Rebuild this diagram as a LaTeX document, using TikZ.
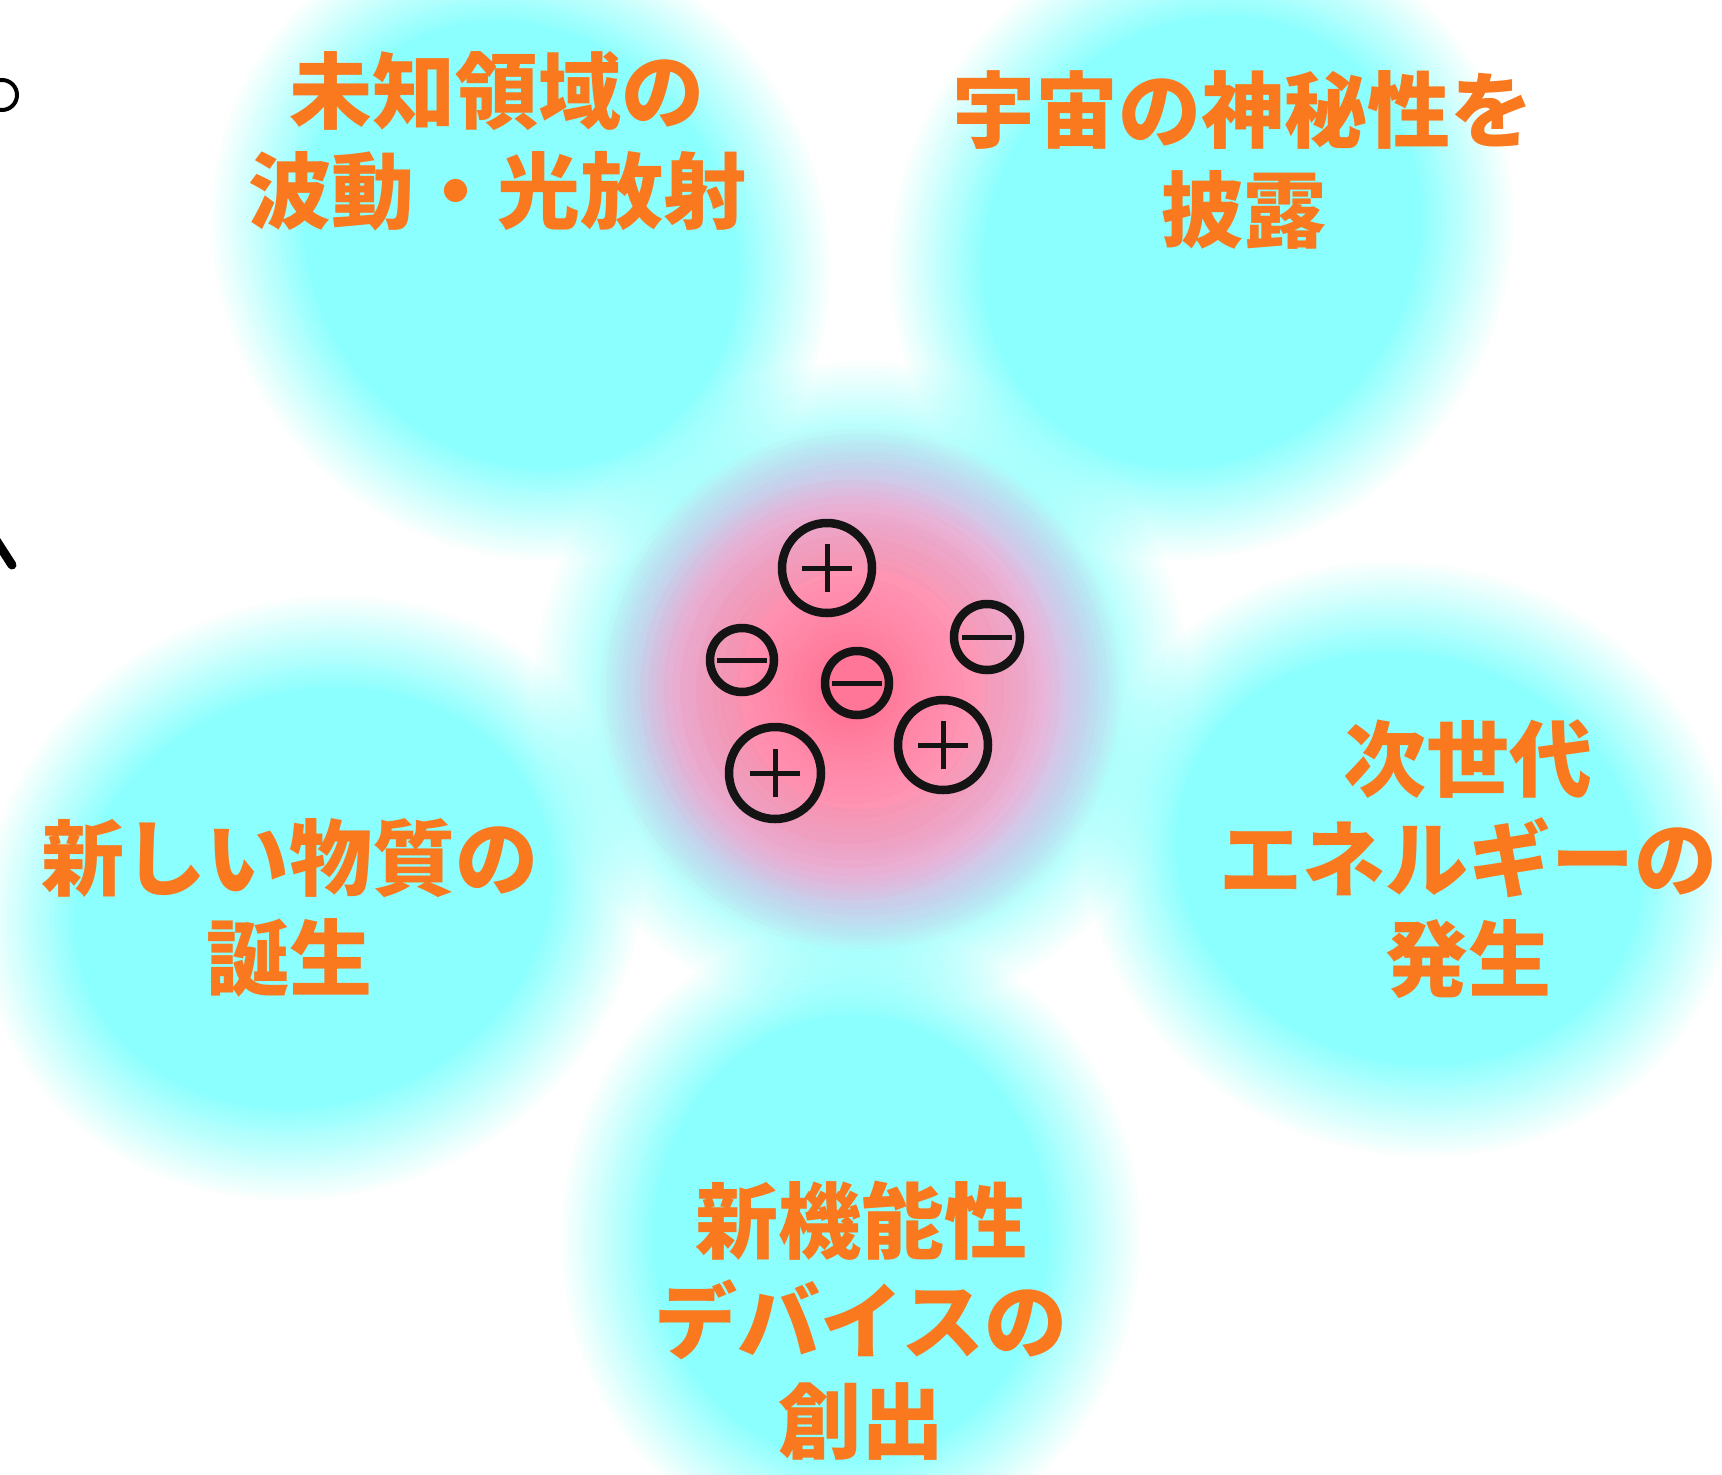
\documentclass[tikz,border=0pt]{standalone}
\usepackage{fontspec}
\newfontfamily\jpfont{Noto Sans CJK JP}
\definecolor{petalcol}{RGB}{138,255,253}
\definecolor{lavender}{RGB}{222,208,250}
\definecolor{pinklight}{RGB}{255,182,212}
\definecolor{pinkdeep}{RGB}{255,118,152}
\definecolor{txtorange}{RGB}{250,120,30}
\newcommand\softellipse[7]{%
  \foreach \j in {1,...,26}{%
    \pgfmathsetmacro\myoff{-#6+2*#6*(\j-1)/25}%
    \pgfmathsetmacro\myop{1/\j}%
    \fill[#7, opacity=\myop, rotate around={#3:(#1,#2)}] (#1,#2) ellipse ({#4+\myoff} and {#5+\myoff});
  }}
\tikzset{
  lbl/.style={text=txtorange, align=center, inner sep=0pt,
    font=\jpfont\bfseries\fontsize{83}{100}\selectfont},
  chg/.style={circle, draw=black!92, line width=8.5pt, inner sep=0pt},
  plus/.style={chg, path picture={
      \draw[line width=5pt, black!92] (path picture bounding box.center) ++(-25pt,0) -- ++(50pt,0);
      \draw[line width=5pt, black!92] (path picture bounding box.center) ++(0,-24pt) -- ++(0,48pt);}},
  minus/.style={chg, path picture={
      \draw[line width=5pt, black!92] (path picture bounding box.center) ++(-25pt,0) -- ++(50pt,0);}},
}
\begin{document}
\begin{tikzpicture}[x=1pt,y=-1pt]
\useasboundingbox (0,0) rectangle (1722,1475);
\fill[white] (0,0) rectangle (1722,1475);
% soft glow around centre
\softellipse{862}{689}{0}{268}{268}{60}{petalcol}
% petals
\softellipse{521}{245}{-52}{275}{250}{50}{petalcol}
\softellipse{1202}{242}{-128}{277}{252}{50}{petalcol}
\softellipse{313}{898}{20}{285}{248}{50}{petalcol}
\softellipse{1409}{859}{163}{278}{245}{50}{petalcol}
\softellipse{851}{1238}{89}{265}{240}{50}{petalcol}
% pink centre
\softellipse{862}{689}{0}{222}{222}{40}{lavender}
\softellipse{860}{689}{0}{190}{190}{70}{pinklight}
\softellipse{850}{690}{0}{110}{110}{100}{pinkdeep}
% charges
\node[plus, minimum size=90pt] (p1) at (827,568) {};
\node[minus, minimum size=64pt] (m1) at (742,660) {};
\node[minus, minimum size=64pt] (m2) at (857,683) {};
\node[minus, minimum size=66pt] (m3) at (987,637) {};
\node[plus, minimum size=92pt] (p2) at (775,773) {};
\node[plus, minimum size=90pt] (p3) at (943,745) {};
% labels
\node[lbl] (t1) at (497,141) {未知領域の\\波動・光放射};
\node[lbl] (t2) at (1243,160) {宇宙の神秘性を\\披露};
\node[lbl] (t3) at (290,908) {新しい物質の\\誕生};
\node[lbl] (t4) at (1468,859) {次世代\\エネルギーの\\発生};
\node[lbl] (t5) at (861,1321) {新機能性\\デバイスの\\創出};
% cut-off marks at the left edge
\draw[line width=4pt, black] (2,95) circle (15);
\draw[line width=9pt, black, line cap=round] (-6,537) -- (12,565);
\end{tikzpicture}
\end{document}
